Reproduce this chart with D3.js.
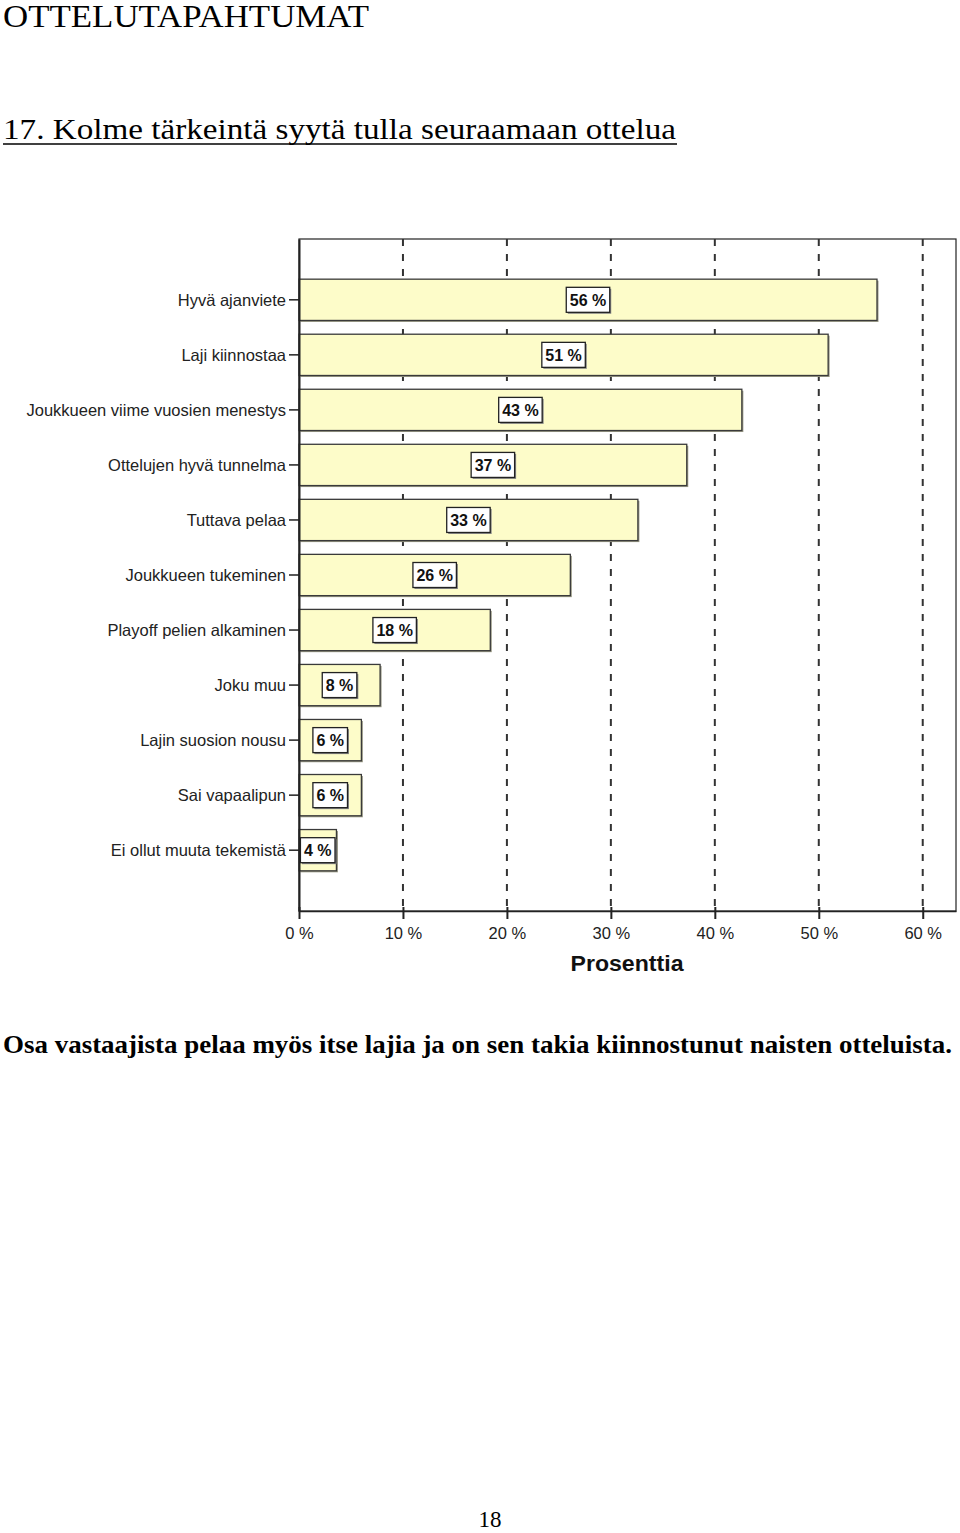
<!DOCTYPE html>
<html>
<head>
<meta charset="utf-8">
<script src="https://cdn.jsdelivr.net/npm/d3@7"></script>
<style>
  body { margin: 0; background: #fff; }
  svg { display: block; }
</style>
</head>
<body>
<div id="chart"></div>
<script>
// data
var categories = [
    'Hyvä ajanviete',
    'Laji kiinnostaa',
    'Joukkueen viime vuosien menestys',
    'Ottelujen hyvä tunnelma',
    'Tuttava pelaa',
    'Joukkueen tukeminen',
    'Playoff pelien alkaminen',
    'Joku muu',
    'Lajin suosion nousu',
    'Sai vapaalipun',
    'Ei ollut muuta tekemistä'
];
var barValues = [55.6, 50.9, 42.6, 37.3, 32.6, 26.1, 18.4, 7.8, 6.0, 6.0, 3.6];
var barLabels = ['56 %', '51 %', '43 %', '37 %', '33 %', '26 %', '18 %', '8 %', '6 %', '6 %', '4 %'];
var xTicks = [0, 10, 20, 30, 40, 50, 60];
var xTickLabels = ['0 %', '10 %', '20 %', '30 %', '40 %', '50 %', '60 %'];

var pageTitle = 'OTTELUTAPAHTUMAT';
var chartTitle = '17. Kolme tärkeintä syytä tulla seuraamaan ottelua';
var axisTitle = 'Prosenttia';
var bodyText = 'Osa vastaajista pelaa myös itse lajia ja on sen takia kiinnostunut naisten otteluista.';
var pageNumber = '18';

var attrs = {
    svgWidth: 960,
    svgHeight: 1533,
    plotLeft: 299,
    plotRight: 956,
    plotTop: 239,
    plotBottom: 911,
    xMax: 63.2
};

var svg = d3.select('#chart')
    .append('svg')
    .attr('width', attrs.svgWidth)
    .attr('height', attrs.svgHeight);

var serif = "'Liberation Serif', 'Times New Roman', serif";
var sans = "'Liberation Sans', Arial, sans-serif";

// page texts
svg.append('text')
    .attr('x', 3).attr('y', 27)
    .attr('font-family', serif).attr('font-size', 31)
    .attr('textLength', 366).attr('lengthAdjust', 'spacingAndGlyphs')
    .text(pageTitle);

svg.append('text')
    .attr('x', 3).attr('y', 139)
    .attr('font-family', serif).attr('font-size', 29)
    .attr('textLength', 673).attr('lengthAdjust', 'spacingAndGlyphs')
    .text(chartTitle);
svg.append('line')
    .attr('x1', 3).attr('x2', 677)
    .attr('y1', 144).attr('y2', 144)
    .attr('stroke', '#000').attr('stroke-width', 1.5);

svg.append('text')
    .attr('x', 3).attr('y', 1053)
    .attr('font-family', serif).attr('font-size', 25).attr('font-weight', 'bold')
    .attr('textLength', 949).attr('lengthAdjust', 'spacingAndGlyphs')
    .text(bodyText);

svg.append('text')
    .attr('x', 490).attr('y', 1527)
    .attr('text-anchor', 'middle')
    .attr('font-family', serif).attr('font-size', 23)
    .text(pageNumber);

/* ############# SCALES ############### */
var x = d3.scaleLinear()
    .domain([0, attrs.xMax])
    .range([attrs.plotLeft, attrs.plotRight]);

var y = d3.scaleBand()
    .domain(categories)
    .range([attrs.plotTop, attrs.plotBottom])
    .paddingInner(0.25)
    .paddingOuter(0.73);

var chart = svg.append('g');

// frame
chart.append('rect')
    .attr('x', attrs.plotLeft).attr('y', attrs.plotTop)
    .attr('width', attrs.plotRight - attrs.plotLeft)
    .attr('height', attrs.plotBottom - attrs.plotTop)
    .attr('fill', 'none').attr('stroke', '#222').attr('stroke-width', 1.2);

// dashed grid
chart.selectAll('line.grid')
    .data(xTicks.filter(d => d > 0))
    .enter()
    .append('line')
    .attr('class', 'grid')
    .attr('x1', d => x(d)).attr('x2', d => x(d))
    .attr('y1', attrs.plotTop).attr('y2', attrs.plotBottom)
    .attr('stroke', '#333').attr('stroke-width', 2)
    .attr('stroke-dasharray', '7,8');

/* ##############  BARS ################# */
var bars = chart.selectAll('g.bar')
    .data(categories)
    .enter()
    .append('g')
    .attr('class', 'bar');

// shadow
bars.append('rect')
    .attr('x', x(0) + 1.5)
    .attr('y', d => y(d) + 1.5)
    .attr('width', (d, i) => x(barValues[i]) - x(0))
    .attr('height', y.bandwidth())
    .attr('fill', '#9a9a86');

bars.append('rect')
    .attr('x', x(0))
    .attr('y', d => y(d))
    .attr('width', (d, i) => x(barValues[i]) - x(0))
    .attr('height', y.bandwidth())
    .attr('fill', '#fdfcc9')
    .attr('stroke', '#3a3a3a')
    .attr('stroke-width', 1.3);

// value labels in boxes
bars.each(function (d, i) {
    var g = d3.select(this);
    var cx = (x(0) + x(barValues[i])) / 2;
    var cy = y(d) + y.bandwidth() / 2;
    var t = g.append('text')
        .attr('x', cx).attr('y', cy + 6)
        .attr('text-anchor', 'middle')
        .attr('font-family', sans).attr('font-weight', 'bold')
        .attr('font-size', 16)
        .attr('fill', '#111')
        .text(barLabels[i]);
    var w = t.node().getComputedTextLength() + 7;
    g.insert('rect', 'text')
        .attr('x', cx - w / 2 + 1.5).attr('y', cy - 12.5 + 1.5)
        .attr('width', w).attr('height', 25)
        .attr('fill', '#888');
    g.insert('rect', 'text')
        .attr('x', cx - w / 2).attr('y', cy - 12.5)
        .attr('width', w).attr('height', 25)
        .attr('fill', '#fff').attr('stroke', '#222').attr('stroke-width', 1.3);
});

/* ##############  AXES ################# */
var yAxis = chart.append('g')
    .attr('transform', 'translate(' + attrs.plotLeft + ',0)')
    .call(d3.axisLeft(y).tickSizeInner(10).tickSizeOuter(0).tickPadding(3));
yAxis.select('.domain').attr('stroke', '#222').attr('stroke-width', 2);
yAxis.selectAll('.tick line').attr('stroke', '#222').attr('stroke-width', 1.5);
yAxis.selectAll('.tick text')
    .attr('font-family', sans).attr('font-size', 16.5).attr('fill', '#222')
    .attr('dy', '0.35em');

var xAxis = chart.append('g')
    .attr('transform', 'translate(0,' + attrs.plotBottom + ')')
    .call(d3.axisBottom(x).tickValues(xTicks)
        .tickFormat((d, i) => xTickLabels[i])
        .tickSizeInner(8).tickSizeOuter(0).tickPadding(8));
xAxis.select('.domain').attr('stroke', '#222').attr('stroke-width', 1.5);
xAxis.selectAll('.tick line').attr('stroke', '#222').attr('stroke-width', 2)
    .attr('y1', -4);
xAxis.selectAll('.tick text')
    .attr('font-family', sans).attr('font-size', 16.5).attr('fill', '#222');

chart.append('text')
    .attr('x', 627).attr('y', 971)
    .attr('text-anchor', 'middle')
    .attr('font-family', sans).attr('font-weight', 'bold').attr('font-size', 22)
    .attr('textLength', 113).attr('lengthAdjust', 'spacingAndGlyphs')
    .attr('fill', '#111')
    .text(axisTitle);
</script>
</body>
</html>
